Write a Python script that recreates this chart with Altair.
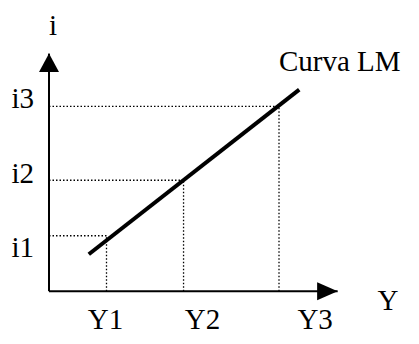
import altair as alt
import pandas as pd

# --- data (in chart units) ---
y_levels = ["Y1", "Y2", "Y3"]
y_values = [2.5, 5.85, 10.0]
i_levels = ["i1", "i2", "i3"]
i_values = [3.0, 6.0, 10.0]

# LM curve endpoints
lm_x = [1.73, 10.88]
lm_y = [2.0, 10.9]

# axis extents
x_axis_end = 12.55
y_axis_end = 12.85

# tick label positions
i_label_x = [-0.65, -0.65, -0.65]
i_label_y = [1.87, 5.85, 9.9]
y_label_x = [2.46, 6.67, 11.57]
y_label_y = [-2.07, -2.07, -2.07]

axis_titles = ["i", "Y"]
axis_title_x = [0.17, 14.74]
axis_title_y = [13.88, -1.04]

curve_label = "Curva LM"
curve_label_x = [10.0]
curve_label_y = [11.89]

X_DOMAIN = [-1.7826, 15.739]
Y_DOMAIN = [-2.423, 15.316]
FONT = "Liberation Serif"
FS = 29

xs = alt.Scale(domain=X_DOMAIN, nice=False, zero=False)
ys = alt.Scale(domain=Y_DOMAIN, nice=False, zero=False)


def X(f):
    return alt.X(f, type="quantitative", scale=xs, axis=None)


def Y(f):
    return alt.Y(f, type="quantitative", scale=ys, axis=None)


guides = pd.DataFrame({"Yv": y_values, "iv": i_values, "zero": [0.0] * 3})

h_dots = alt.Chart(guides).mark_rule(
    color="black", strokeWidth=1.3, strokeDash=[1.5, 2]
).encode(x=X("zero"), x2="Yv", y=Y("iv"))

v_dots = alt.Chart(guides).mark_rule(
    color="black", strokeWidth=1.3, strokeDash=[1.5, 2]
).encode(x=X("Yv"), y=Y("zero"), y2="iv")

axes_df = pd.DataFrame({"x0": [0.0, 0.0], "y0": [0.0, 0.0],
                        "x1": [x_axis_end, 0.0], "y1": [0.0, y_axis_end]})
axes_lines = alt.Chart(axes_df).mark_rule(color="black", strokeWidth=2).encode(
    x=X("x0"), y=Y("y0"), x2="x1", y2="y1"
)

up_arrow = alt.Chart(pd.DataFrame({"x": [0.0], "y": [y_axis_end]})).mark_point(
    shape="M0,0L-1,1.85L1,1.85Z", size=400, filled=True, color="black", opacity=1
).encode(x=X("x"), y=Y("y"))

right_arrow = alt.Chart(pd.DataFrame({"x": [x_axis_end], "y": [0.0]})).mark_point(
    shape="M0,0L-2.05,-0.9L-2.05,0.9Z", size=400, filled=True, color="black", opacity=1
).encode(x=X("x"), y=Y("y"))

lm = alt.Chart(pd.DataFrame({"x": lm_x, "y": lm_y})).mark_line(
    color="black", strokeWidth=4, strokeCap="butt"
).encode(x=X("x"), y=Y("y"))

i_labels = alt.Chart(pd.DataFrame({"t": i_levels, "x": i_label_x, "y": i_label_y})).mark_text(
    font=FONT, fontSize=FS, align="right", baseline="alphabetic", color="black"
).encode(x=X("x"), y=Y("y"), text="t")

y_labels = alt.Chart(pd.DataFrame({"t": y_levels, "x": y_label_x, "y": y_label_y})).mark_text(
    font=FONT, fontSize=FS, align="center", baseline="alphabetic", color="black"
).encode(x=X("x"), y=Y("y"), text="t")

titles = alt.Chart(pd.DataFrame({"t": axis_titles, "x": axis_title_x, "y": axis_title_y})).mark_text(
    font=FONT, fontSize=FS, align="center", baseline="alphabetic", color="black"
).encode(x=X("x"), y=Y("y"), text="t")

curve_text = alt.Chart(pd.DataFrame({"t": [curve_label], "x": curve_label_x, "y": curve_label_y})).mark_text(
    font=FONT, fontSize=FS, align="left", baseline="alphabetic", color="black"
).encode(x=X("x"), y=Y("y"), text="t")

chart = alt.layer(
    h_dots, v_dots, axes_lines, up_arrow, right_arrow, lm,
    i_labels, y_labels, titles, curve_text
).properties(
    width=403, height=328, padding=0, autosize=alt.AutoSizeParams(type="none")
).configure_view(stroke=None)

chart.save("out.html", embed_options={"renderer": "svg", "actions": False})
